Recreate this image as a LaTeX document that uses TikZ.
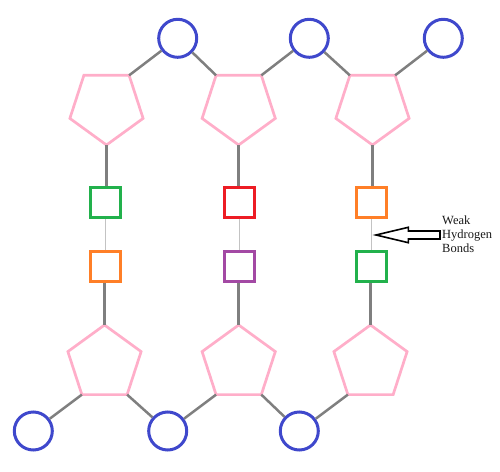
\documentclass[tikz,border=0pt]{standalone}
\usepackage{fontspec}
\setmainfont{Liberation Serif}
\usetikzlibrary{shapes.geometric}
\definecolor{pblue}{HTML}{3F48CC}
\definecolor{ppink}{HTML}{FFAEC9}
\definecolor{pgreen}{HTML}{22B14C}
\definecolor{pred}{HTML}{ED1C24}
\definecolor{porange}{HTML}{FF7F27}
\definecolor{ppurple}{HTML}{A349A4}
\definecolor{bondgrey}{HTML}{7F7F7F}
\definecolor{hgrey}{HTML}{C3C3C3}
\tikzset{
  phos/.style={circle,draw=pblue,line width=3pt,minimum size=38pt,inner sep=0pt},
  sugardown/.style={regular polygon,regular polygon sides=5,shape border rotate=180,draw=ppink,line width=2.7pt,minimum size=77pt,inner sep=0pt,outer sep=0pt},
  sugarup/.style={regular polygon,regular polygon sides=5,draw=ppink,line width=2.7pt,minimum size=77pt,inner sep=0pt,outer sep=0pt},
  base/.style={rectangle,draw=#1,line width=3pt,minimum size=30pt,inner sep=0pt},
  bond/.style={draw=bondgrey,line width=2.5pt},
  hbond/.style={draw=hgrey,line width=1.2pt},
}
\begin{document}
\begin{tikzpicture}[x=1pt,y=1pt]
\useasboundingbox (0,0) rectangle (500,471);
% top phosphates
\node[phos] (c1) at (177.7,432.7) {};
\node[phos] (c2) at (309.3,432.7) {};
\node[phos] (c3) at (443.3,432.7) {};
% top sugars
\node[sugardown] (p1) at (106.5,364.5) {};
\node[sugardown] (p2) at (238.7,364.5) {};
\node[sugardown] (p3) at (372.5,364.5) {};
% top bases
\node[base=pgreen] (s1) at (105.5,268) {};
\node[base=pred] (s2) at (239.5,268) {};
\node[base=porange] (s3) at (371.7,268) {};
% bottom bases
\node[base=porange] (b1) at (105.5,204.7) {};
\node[base=ppurple] (b2) at (239.5,204.7) {};
\node[base=pgreen] (b3) at (371.7,204.7) {};
% bottom sugars
\node[sugarup] (q1) at (104.5,107.5) {};
\node[sugarup] (q2) at (238.7,107.5) {};
\node[sugarup] (q3) at (370.5,107.5) {};
% bottom phosphates
\node[phos] (d1) at (33.3,40) {};
\node[phos] (d2) at (167.7,40) {};
\node[phos] (d3) at (299.3,40) {};
% backbone bonds (top)
\draw[bond] (c1) -- (p1.54);
\draw[bond] (c1) -- (p2.126);
\draw[bond] (c2) -- (p2.54);
\draw[bond] (c2) -- (p3.126);
\draw[bond] (c3) -- (p3.54);
% backbone bonds (bottom)
\draw[bond] (d1) -- (q1.234);
\draw[bond] (q1.306) -- (d2);
\draw[bond] (d2) -- (q2.234);
\draw[bond] (q2.306) -- (d3);
\draw[bond] (d3) -- (q3.234);
% sugar-base bonds
\draw[bond] (p1.south) -- (p1.south |- s1.north);
\draw[bond] (p2.south) -- (p2.south |- s2.north);
\draw[bond] (p3.south) -- (p3.south |- s3.north);
\draw[bond] (q1.north |- b1.south) -- (q1.north);
\draw[bond] (q2.north |- b2.south) -- (q2.north);
\draw[bond] (q3.north |- b3.south) -- (q3.north);
% hydrogen bonds
\draw[hbond] (s1.south) -- (b1.north);
\draw[hbond] (s2.south) -- (b2.north);
\draw[hbond] (s3.south) -- (b3.north);
% arrow
\coordinate (tip) at (376,236);
\draw[black,line width=1.6pt,fill=white,line join=miter]
  (tip) -- ++(32.3,7.7) -- ++(0,-3.7) -- ++(31.7,0) -- ++(0,-8) -- ++(-31.7,0) -- ++(0,-3.7) -- cycle;
\node[anchor=west,align=left,inner sep=0pt,font=\fontsize{12.5}{13.8}\selectfont,text=black!90] (lbl) at (442,236.8) {Weak\\Hydrogen\\Bonds};
\end{tikzpicture}
\end{document}
